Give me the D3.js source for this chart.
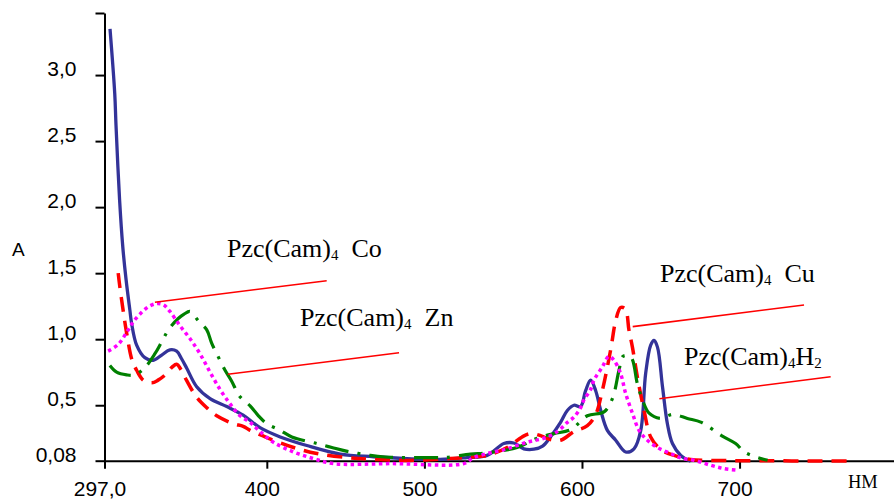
<!DOCTYPE html>
<html>
<head>
<meta charset="utf-8">
<script src="https://cdn.jsdelivr.net/npm/d3@7"></script>
<style>
body { margin: 0; background: #fff; }
</style>
</head>
<body>
<script>
// spectra, [wavelength nm, absorbance]
const h2 = [
    [300.5, 3.35], [303.5, 2.86], [304.3, 2.62], [306.6, 2.05], [308.6, 1.70], [310.7, 1.45],
    [313.1, 1.22], [314.2, 1.12], [317.4, 0.955], [322.6, 0.86], [327.9, 0.84], [333.3, 0.88],
    [338.5, 0.92], [342.8, 0.91], [346, 0.85], [349.2, 0.78], [355.5, 0.64], [364, 0.55],
    [374.6, 0.49], [385, 0.425], [395.7, 0.33], [408.5, 0.26], [425.4, 0.195], [446.6, 0.13],
    [467.8, 0.11], [489, 0.096], [510, 0.09], [527, 0.104], [539.8, 0.12], [550.4, 0.21],
    [556.7, 0.214], [563.1, 0.17], [569.5, 0.167], [575, 0.19], [580, 0.26], [586.4, 0.37],
    [590.7, 0.46], [594.9, 0.50], [599.1, 0.49], [602.3, 0.61], [605.5, 0.69], [608.7, 0.61],
    [611.9, 0.46], [616.1, 0.31], [621.4, 0.235], [627.7, 0.146], [633, 0.17], [637.3, 0.31],
    [640.4, 0.74], [643.6, 0.955], [645.7, 0.99], [647.9, 0.94], [651.1, 0.64], [654.2, 0.36],
    [657.4, 0.21], [662.7, 0.12], [669, 0.076]
];
const cu = [
    [305.7, 1.50], [306.7, 1.40], [311, 1.05], [314.5, 0.84], [317.4, 0.765], [321.6, 0.69],
    [327, 0.67], [331, 0.69], [336, 0.735], [340, 0.79], [342.8, 0.81], [345.5, 0.77],
    [349, 0.69], [355.5, 0.56], [362, 0.48], [368.2, 0.42], [378.8, 0.36], [385, 0.34],
    [389.4, 0.31], [400, 0.255], [417, 0.18], [431.8, 0.134], [450.8, 0.104], [467.8, 0.09],
    [490, 0.082], [516.5, 0.096], [529.2, 0.108], [539.8, 0.12], [552.5, 0.18], [562, 0.26],
    [567.4, 0.285], [573.7, 0.27], [580, 0.24], [586.4, 0.235], [594.9, 0.30], [603.4, 0.345],
    [608.7, 0.43], [612.9, 0.61], [618.2, 0.92], [621.4, 1.14], [624.5, 1.24], [627.5, 1.23],
    [629.8, 1.07], [632, 0.94], [635.2, 0.71], [639.4, 0.46], [643.6, 0.26], [650, 0.165],
    [658.5, 0.12], [669, 0.089], [679.7, 0.083], [700, 0.08], [771, 0.078]
];
const co = [
    [299.3, 0.91], [305.7, 0.96], [312, 1.07], [315.2, 1.13], [319.5, 1.19], [324.8, 1.245],
    [330.1, 1.27], [334.5, 1.26], [338.5, 1.21], [345, 1.10], [351.5, 1.00], [357.6, 0.89],
    [364, 0.75], [370.3, 0.62], [376.7, 0.51], [383, 0.42], [389.4, 0.37], [395.7, 0.30],
    [404.2, 0.22], [417, 0.146], [429.6, 0.096], [442.3, 0.058], [480, 0.058], [525, 0.058],
    [531.3, 0.104], [541.9, 0.14], [552.5, 0.17], [565.2, 0.22], [575.8, 0.25], [584.3, 0.30],
    [590.7, 0.37], [594.9, 0.41], [599.1, 0.48], [601.2, 0.54], [605.5, 0.62], [607.6, 0.69],
    [612.9, 0.79], [617.1, 0.87], [620.3, 0.84], [624.5, 0.74], [627.7, 0.59], [632, 0.44],
    [636.2, 0.31], [641.5, 0.235], [647.9, 0.18], [656.3, 0.134], [663, 0.10], [671.2, 0.083],
    [681.8, 0.045], [690.2, 0.02], [698.7, 0.008]
];
const zn = [
    [300.4, 0.80], [304.7, 0.75], [311, 0.73], [316.3, 0.73], [322.6, 0.785], [329, 0.89],
    [333.3, 0.98], [337.5, 1.07], [343.8, 1.157], [347.5, 1.19], [351.3, 1.21], [356.5, 1.14],
    [361.9, 1.07], [365, 0.97], [369.2, 0.866], [373.5, 0.765], [377.8, 0.68], [382.6, 0.57],
    [389.4, 0.495], [394.7, 0.42], [400, 0.36], [408.5, 0.31], [415.9, 0.26], [431.8, 0.21],
    [441.3, 0.18], [449.8, 0.154], [465.7, 0.12], [475.2, 0.108], [484.7, 0.104], [503.8, 0.104],
    [513.3, 0.104], [529.2, 0.13], [539.8, 0.14], [558.8, 0.18], [571.5, 0.25], [582.2, 0.285],
    [592.8, 0.315], [603.4, 0.42], [614, 0.45], [619.3, 0.55], [623.5, 0.765], [626, 0.87],
    [630.9, 0.866], [635.2, 0.66], [638.4, 0.54], [642.6, 0.44], [650, 0.40], [657.4, 0.43],
    [666.9, 0.40], [675.8, 0.37], [688.5, 0.27], [697.5, 0.21], [703, 0.146], [710, 0.11],
    [717.8, 0.083]
];

const xTicks = [297, 400, 500, 600, 700];
const xTickLabels = ["297,0", "400", "500", "600", "700"];
const yTicks = [0.08, 0.5, 1.0, 1.5, 2.0, 2.5, 3.0, 3.47];
const yTickLabels = ["0,08", "0,5", "1,0", "1,5", "2,0", "2,5", "3,0", ""];

// annotations: metal, text anchor and leader line ends, in data units
const labelMetals = ["Co", "Zn", "Cu", "H"];
const labelAt = [[374.7, 1.622], [421.1, 1.10], [649.5, 1.433], [664.7, 0.805]];
const leaderFrom = [[329.0, 1.28], [375.2, 0.734], [632.2, 1.095], [649.1, 0.549]];
const leaderTo = [[438.0, 1.443], [483.9, 0.898], [740.9, 1.259], [757.8, 0.716]];

const wb = 894;
const hb = 499;

const x = d3.scaleLinear().domain([297, 798]).range([104.5, 894]);
const y = d3.scaleLinear().domain([0.08, 3.47]).range([460.7, 13]);

const svg = d3.select("body")
    .append("svg")
    .attr("width", wb)
    .attr("height", hb);

// axes
svg.append("g")
    .attr("id", "x_axis")
    .attr("transform", `translate(0, ${y(0.08)})`)
    .call(d3.axisBottom(x)
        .tickValues(xTicks)
        .tickFormat((d, i) => xTickLabels[i])
        .tickSize(8)
        .tickSizeOuter(0)
        .tickPadding(12))
    .call(g => g.select(".domain").attr("stroke-width", 2))
    .call(g => g.selectAll(".tick line").attr("stroke-width", 2))
    .call(g => g.selectAll("text")
        .attr("dx", -5)
        .style("font-family", "'Liberation Sans', Arial, sans-serif")
        .style("font-size", "21px")
        .attr("fill", "#000"));

svg.append("g")
    .attr("id", "y_axis")
    .attr("transform", `translate(${x(297)}, 0)`)
    .call(d3.axisLeft(y)
        .tickValues(yTicks)
        .tickFormat((d, i) => yTickLabels[i])
        .tickSize(9)
        .tickSizeOuter(0)
        .tickPadding(19))
    .call(g => g.select(".domain").attr("stroke-width", 2))
    .call(g => g.selectAll(".tick line").attr("stroke-width", 2))
    .call(g => g.selectAll("text")
        .attr("dy", "0.02em")
        .style("font-family", "'Liberation Sans', Arial, sans-serif")
        .style("font-size", "21px")
        .attr("fill", "#000"));

svg.append("text")
    .attr("x", 12)
    .attr("y", 255.5)
    .style("font-family", "'Liberation Sans', Arial, sans-serif")
    .style("font-size", "19px")
    .text("A");

svg.append("text")
    .attr("x", 848)
    .attr("y", 488.3)
    .style("font-family", "'Liberation Serif', 'Times New Roman', serif")
    .style("font-size", "18.5px")
    .text("НМ");

// curves
const series = [
    { data: h2, colour: "#333399", width: 3.3, dash: null },
    { data: cu, colour: "#ff0000", width: 3.5, dash: "15,9" },
    { data: zn, colour: "#008000", width: 3.2, dash: "24,9,3,9" },
    { data: co, colour: "#ff00ff", width: 3.5, dash: "3.5,3.5" }
];

const line = d3.line()
    .x(d => x(d[0]))
    .y(d => y(d[1]))
    .curve(d3.curveCatmullRom.alpha(0.5));

svg.append("g")
    .attr("id", "curves")
    .selectAll("path")
    .data(series)
    .join("path")
    .attr("fill", "none")
    .attr("stroke", s => s.colour)
    .attr("stroke-width", s => s.width)
    .attr("stroke-dasharray", s => s.dash)
    .attr("stroke-linejoin", "round")
    .attr("d", s => line(s.data));

// leader lines and labels
svg.append("g")
    .attr("id", "leaders")
    .selectAll("line")
    .data(leaderFrom)
    .join("line")
    .attr("stroke", "#ff0000")
    .attr("stroke-width", 1.6)
    .attr("x1", d => x(d[0]))
    .attr("y1", d => y(d[1]))
    .attr("x2", (d, i) => x(leaderTo[i][0]))
    .attr("y2", (d, i) => y(leaderTo[i][1]));

const labels = svg.append("g")
    .attr("id", "labels")
    .style("font-family", "'Liberation Serif', 'Times New Roman', serif")
    .style("font-size", "26px")
    .attr("fill", "#000")
    .selectAll("text")
    .data(labelMetals)
    .join("text")
    .attr("x", (d, i) => x(labelAt[i][0]))
    .attr("y", (d, i) => y(labelAt[i][1]));

labels.append("tspan").text("Pzc(Cam)");
labels.append("tspan")
    .attr("dy", 3)
    .style("font-size", "15px")
    .text("4");
labels.append("tspan")
    .attr("dy", -3)
    .attr("dx", d => d === "H" ? 0 : 13)
    .text(d => d);
labels.filter(d => d === "H")
    .append("tspan")
    .attr("dy", 3)
    .style("font-size", "15px")
    .text("2");
</script>
</body>
</html>
